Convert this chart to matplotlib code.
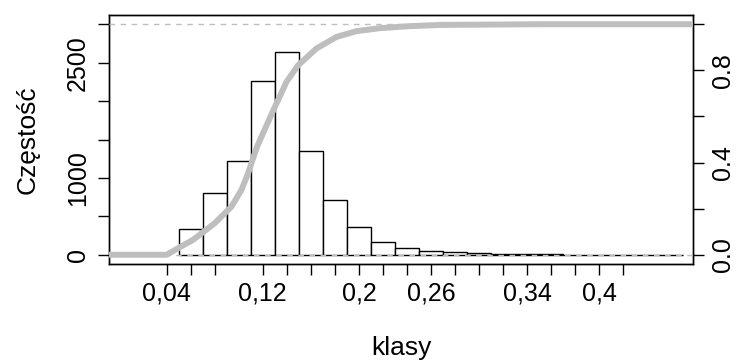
import numpy as np
import matplotlib
matplotlib.use("Agg")
import matplotlib.pyplot as plt

plt.rcParams['font.family'] = ['Liberation Sans', 'DejaVu Sans']

# histogram classes (left edges, width 0.02) and counts
bin_edges = [0.05, 0.07, 0.09, 0.11, 0.13, 0.15, 0.17, 0.19, 0.21, 0.23, 0.25,
             0.27, 0.29, 0.31, 0.33, 0.35, 0.37, 0.39, 0.41, 0.43, 0.45, 0.47]
counts = [334, 809, 1217, 2260, 2640, 1355, 714, 355, 169, 87,
          48, 32, 22, 12, 6, 4, 2, 1, 1, 0, 0]

# empirical distribution function
ecdf_x = [-0.008, 0.04, 0.05, 0.062, 0.08, 0.0939, 0.1022, 0.1078, 0.112, 0.1153,
          0.1286, 0.1397, 0.1494, 0.1647, 0.1814, 0.198, 0.2175, 0.24, 0.2675,
          0.351, 0.478]
ecdf_y = [0, 0, 0.03, 0.065, 0.137, 0.209, 0.281, 0.354, 0.42, 0.47,
          0.625, 0.75, 0.822, 0.895, 0.945, 0.970, 0.983, 0.991, 0.997,
          1.0, 1.0]

# axis annotation
x_ticks = [0.04, 0.06, 0.08, 0.12, 0.14, 0.16, 0.18, 0.20, 0.22, 0.24, 0.26,
           0.28, 0.30, 0.32, 0.34, 0.36, 0.38, 0.40, 0.42]
x_labels = {0.04: "0,04", 0.12: "0,12", 0.20: "0,2", 0.26: "0,26",
            0.34: "0,34", 0.40: "0,4"}
y_ticks = [0, 500, 1000, 1500, 2000, 2500, 3000]
y_labels = {0: "0", 1000: "1000", 2500: "2500"}
p_ticks = [0.0, 0.2, 0.4, 0.6, 0.8, 1.0]
p_labels = {0.0: "0.0", 0.4: "0.4", 0.8: "0.8"}

fig = plt.figure(figsize=(7.36, 3.6), dpi=100)
ax = fig.add_axes([109/736, 1 - 264/360, (693 - 109)/736, (264 - 15)/360])
ax.set_xlim(-0.008, 0.478)
ax.set_ylim(-120, 3120)

widths = np.diff(bin_edges)
ax.bar(bin_edges[:-1], counts, width=widths, align='edge',
       facecolor='white', edgecolor='black', linewidth=1.0, zorder=2)

ax2 = ax.twinx()
ax2.set_ylim(-0.04, 1.04)
ax2.axhline(0, color='#BEBEBE', linestyle=(0, (4, 4)), linewidth=1.0, zorder=3)
ax2.axhline(1, color='#BEBEBE', linestyle=(0, (4, 4)), linewidth=1.0, zorder=3)
ax2.plot(ecdf_x, ecdf_y, color='#BEBEBE', linewidth=4.3, solid_capstyle='butt',
         solid_joinstyle='round', zorder=4)

fs = 18
tick_len = 11 * 72 / 100

ax.set_xticks(x_ticks)
ax.set_xticklabels([x_labels.get(round(t, 2), "") for t in x_ticks], fontsize=fs)
ax.set_yticks(y_ticks)
ax.set_yticklabels([y_labels.get(t, "") for t in y_ticks], fontsize=fs,
                   rotation=90, va='center')
ax2.set_yticks(p_ticks)
ax2.set_yticklabels([p_labels.get(round(t, 1), "") for t in p_ticks], fontsize=fs,
                    rotation=90, va='center')

ax.tick_params(axis='x', length=tick_len, width=1, pad=5)
ax.tick_params(axis='y', length=tick_len, width=1, pad=6)
ax2.tick_params(axis='y', length=tick_len, width=1, pad=5)

for a in (ax, ax2):
    for s in a.spines.values():
        s.set_linewidth(1.0)
        s.set_color('black')

ax.set_xlabel("klasy", fontsize=19, labelpad=22)
ax.set_ylabel("Częstość", fontsize=19, labelpad=19)

fig.savefig("out.png", dpi=100)
